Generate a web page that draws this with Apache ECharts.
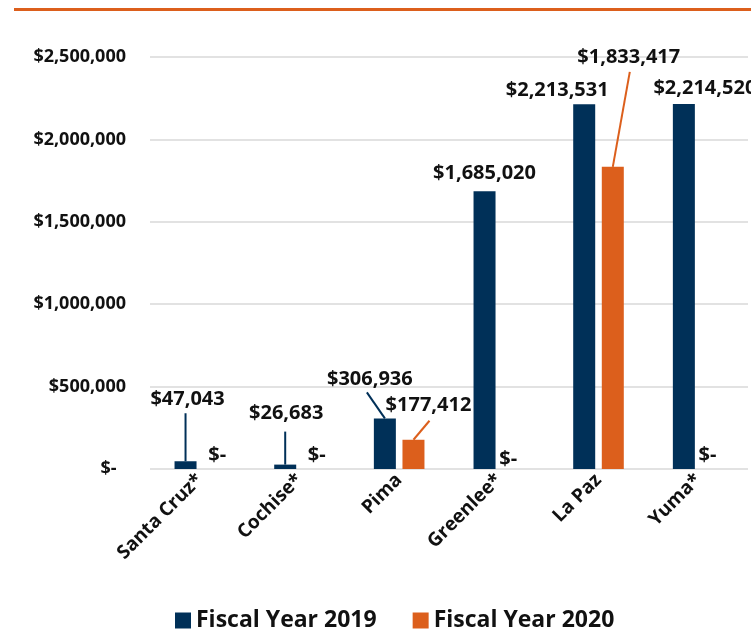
<!DOCTYPE html>
<html>
<head>
<meta charset="utf-8">
<script src="https://cdn.jsdelivr.net/npm/echarts@6/dist/echarts.min.js"></script>
<style>
html,body{margin:0;padding:0;background:#fff;}
#chart{width:751px;height:633px;}
</style>
</head>
<body>
<div id="chart"></div>
<script>
const categories = ['Santa Cruz*', 'Cochise*', 'Pima', 'Greenlee*', 'La Paz', 'Yuma*'];
const fy2019 = [47043, 26683, 306936, 1685020, 2213531, 2214520];
const fy2020 = [0, 0, 177412, 0, 1833417, 0];
const seriesNames = ['Fiscal Year 2019', 'Fiscal Year 2020'];
const yTicks = [0, 500000, 1000000, 1500000, 2000000, 2500000];

const NAVY = '#003058';
const ORANGE = '#DC5F1C';
const FONT = '"Open Sans"';

// label offsets (style only): [seriesIndex][dataIndex] -> [dx, dy]
const labelMoves = [
  [[2, -47], [1, -36], [-15, -24], [0, -3], [-27, 1], [21, -1]],
  [[3, 1], [3, 1], [15, -19], [-5, 5], [16, -95], [-5, 1]]
];
// leader line end offsets from bar top centre (style only), null = no leader
const leaderEnds = [
  [[0, -48], [0, -33], [-18, -26], null, null, null],
  [null, null, [16, -19], null, [17, -95], null]
];

function money(v) {
  if (v === 0) return '$-';
  return '$' + v.toLocaleString('en-US');
}

const chart = echarts.init(document.getElementById('chart'), null, { renderer: 'canvas' });
const labelStyle = {
  show: true, position: 'top', distance: 5,
  fontFamily: FONT, fontWeight: 'bold', fontSize: 20, color: '#111',
  formatter: p => money(p.value)
};
chart.setOption({
  animation: false,
  backgroundColor: '#ffffff',
  textStyle: { fontFamily: FONT },
  grid: { left: 150, right: 3, top: 57, bottom: 164, containLabel: false },
  legend: {
    bottom: 1,
    left: 175,
    padding: 0,
    itemWidth: 16,
    itemHeight: 16,
    itemGap: 36,
    icon: 'rect',
    textStyle: { fontFamily: FONT, fontWeight: 'bold', fontSize: 23, color: '#111' },
    data: seriesNames
  },
  xAxis: {
    type: 'category',
    data: categories,
    axisLine: { show: false },
    axisTick: { show: false },
    axisLabel: {
      rotate: 45,
      margin: 8,
      interval: 0,
      fontFamily: FONT,
      fontWeight: 'bold',
      fontSize: 19,
      color: '#111'
    }
  },
  yAxis: {
    type: 'value',
    min: yTicks[0],
    max: yTicks[yTicks.length - 1],
    interval: yTicks[1] - yTicks[0],
    axisLine: { show: false },
    axisTick: { show: false },
    splitLine: { lineStyle: { color: '#d9d9d9', width: 1.5 } },
    axisLabel: {
      margin: 24,
      fontFamily: FONT,
      fontWeight: 'bold',
      fontSize: 18,
      color: '#111',
      formatter: v => v === 0 ? '$-  ' : money(v)
    }
  },
  labelLayout: function (p) {
    const m = labelMoves[p.seriesIndex][p.dataIndex];
    return { dx: m[0], dy: m[1] };
  },
  series: [
    {
      name: seriesNames[0],
      type: 'bar',
      data: fy2019,
      barWidth: 22,
      barGap: '30%',
      itemStyle: { color: NAVY },
      label: labelStyle
    },
    {
      name: seriesNames[1],
      type: 'bar',
      data: fy2020,
      barWidth: 22,
      barGap: '30%',
      itemStyle: { color: ORANGE },
      label: labelStyle
    }
  ]
});

// leader lines from the bars' own layout
const colors = [NAVY, ORANGE];
const graphics = [{
  type: 'line',
  shape: { x1: 14, y1: 9.5, x2: 751, y2: 9.5 },
  style: { stroke: ORANGE, lineWidth: 3 },
  silent: true
}];
const model = chart.getModel();
[0, 1].forEach(si => {
  const data = model.getSeriesByIndex(si).getData();
  leaderEnds[si].forEach((end, i) => {
    if (!end) return;
    const lay = data.getItemLayout(i);
    const x = lay.x + lay.width / 2;
    const y = Math.min(lay.y, lay.y + lay.height);
    graphics.push({
      type: 'line',
      shape: { x1: x, y1: y, x2: x + end[0], y2: y + end[1] },
      style: { stroke: colors[si], lineWidth: 2 },
      silent: true
    });
  });
});
chart.setOption({ graphic: graphics });
</script>
</body>
</html>
